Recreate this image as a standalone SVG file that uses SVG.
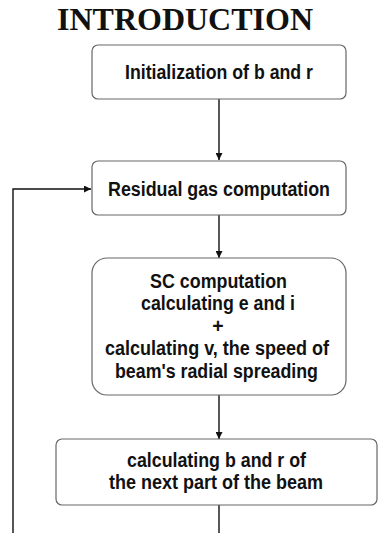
<svg xmlns="http://www.w3.org/2000/svg" width="378" height="533" viewBox="0 0 378 533">
<style>
.box{fill:#fff;stroke:#666;stroke-width:1.2}
.lbl{font-family:"Liberation Sans",Arial,sans-serif;font-weight:bold;font-size:19.5px;fill:#111;text-anchor:middle}
.con{fill:none;stroke:#111;stroke-width:1.4}
</style>
<defs>
<marker id="ah" viewBox="0 0 10 10" refX="10" refY="5" markerWidth="7" markerHeight="7" markerUnits="userSpaceOnUse" orient="auto">
<path d="M0,0 L10,5 L0,10 z" fill="#111"/>
</marker>
</defs>
<rect width="378" height="533" fill="#fff"/>
<text x="185" y="30" font-family="'Liberation Serif','Times New Roman',serif" font-weight="bold" font-size="32" text-anchor="middle" fill="#111">INTRODUCTION</text>
<g id="connectors">
<line class="con" x1="219" y1="99" x2="219" y2="160" marker-end="url(#ah)"/>
<line class="con" x1="219" y1="215" x2="219" y2="258" marker-end="url(#ah)"/>
<line class="con" x1="219" y1="395" x2="219" y2="439" marker-end="url(#ah)"/>
<line class="con" x1="219" y1="505" x2="219" y2="533"/>
<polyline class="con" points="13,533 13,189 91,189" marker-end="url(#ah)"/>
</g>
<g id="n1">
<rect class="box" x="92" y="45" width="254" height="54" rx="6"/>
<text class="lbl" x="219" y="79" textLength="188" lengthAdjust="spacingAndGlyphs">Initialization of b and r</text>
</g>
<g id="n2">
<rect class="box" x="92" y="161" width="254" height="54" rx="6"/>
<text class="lbl" x="219" y="196" textLength="222" lengthAdjust="spacingAndGlyphs">Residual gas computation</text>
</g>
<g id="n3">
<rect class="box" x="92" y="258" width="254" height="137" rx="15"/>
<text class="lbl" x="218.5" y="288" textLength="137" lengthAdjust="spacingAndGlyphs">SC computation</text>
<text class="lbl" x="218" y="310" textLength="154" lengthAdjust="spacingAndGlyphs">calculating e and i</text>
<text class="lbl" x="218" y="333">+</text>
<text class="lbl" x="217" y="355" textLength="224" lengthAdjust="spacingAndGlyphs">calculating v, the speed of</text>
<text class="lbl" x="216.5" y="378" textLength="203" lengthAdjust="spacingAndGlyphs">beam's radial spreading</text>
</g>
<g id="n4">
<rect class="box" x="56" y="439" width="321" height="66" rx="6"/>
<text class="lbl" x="216.5" y="467" textLength="179" lengthAdjust="spacingAndGlyphs">calculating b and r of</text>
<text class="lbl" x="216" y="489" textLength="214" lengthAdjust="spacingAndGlyphs">the next part of the beam</text>
</g>
</svg>
